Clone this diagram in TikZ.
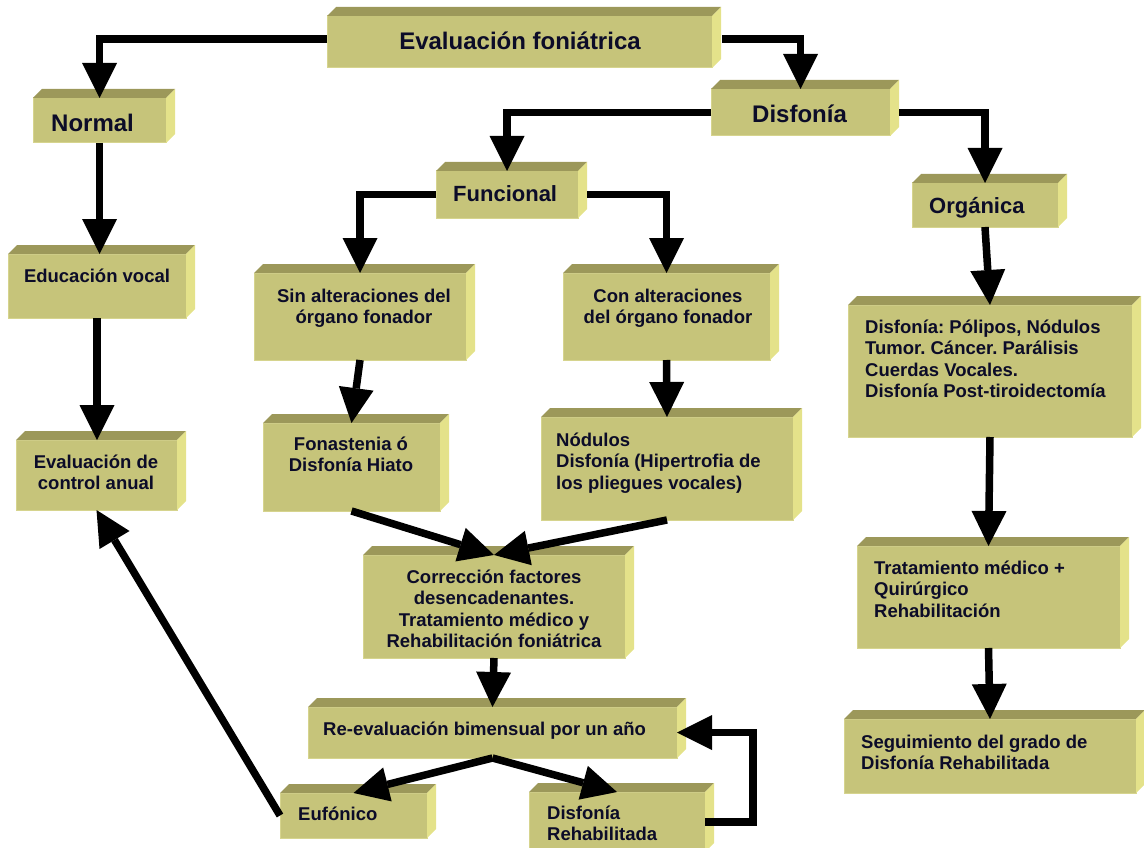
\documentclass[tikz,border=0pt]{standalone}
\usepackage{fontspec}
\setmainfont{Liberation Sans}
\usetikzlibrary{arrows.meta}
\definecolor{frontcol}{RGB}{198,196,122}
\definecolor{edgecol}{RGB}{214,212,142}
\definecolor{topcol}{RGB}{156,152,90}
\definecolor{sidecol}{RGB}{228,226,138}
\definecolor{txtcol}{RGB}{12,12,40}
\newcommand{\mkbox}[5]{%
  \node[frontbox, minimum width={(#4-#2)*1pt}, minimum height={(#5-#3)*1pt}, anchor=north west] (#1) at (#2,#3) {};
  \fill[topcol] (#1.north west) -- ++(9,-9) -- ([shift={(9,-9)}]#1.north east) -- (#1.north east) -- cycle;
  \fill[sidecol] (#1.north east) -- ++(9,-9) -- ([shift={(9,-9)}]#1.south east) -- (#1.south east) -- cycle;
}
\newcommand{\fs}{\rule{0pt}{15pt}}
\frenchspacing
\begin{document}
\begin{tikzpicture}[x=1pt,y=-1pt,
  frontbox/.style={draw=edgecol, line width=1pt, fill=frontcol, inner sep=0pt, outer sep=0pt},
  arr/.style={line width=7.5pt, -{Triangle[length=35pt,width=35pt,line width=0pt]}},
  lbl/.style={inner sep=0pt, text=txtcol, font=\bfseries\fontsize{18.5}{21.5}\selectfont},
  big/.style={lbl, font=\bfseries\fontsize{24}{28}\selectfont},
  mid/.style={lbl, font=\bfseries\fontsize{22}{26}\selectfont}]
\useasboundingbox (0,0) rectangle (1144,848);
\clip (0,0) rectangle (1144,848);
% boxes
\mkbox{evalfon}{327}{16}{712}{68}
\mkbox{normal}{33}{98}{166}{143}
\mkbox{disf}{711}{89}{890}{136}
\mkbox{func}{436}{171}{578}{218}
\mkbox{org}{912}{183}{1058}{227}
\mkbox{educ}{8}{254}{186}{318}
\mkbox{evc}{16}{440}{177}{510}
\mkbox{sin}{254}{273}{466}{360}
\mkbox{con}{563}{273}{770}{360}
\mkbox{fon}{263}{423}{440}{511}
\mkbox{nod}{541}{417}{793}{520}
\mkbox{corr}{363}{555}{625}{658}
\mkbox{re}{308}{707}{677}{758}
\mkbox{euf}{280}{793}{427}{838}
\mkbox{rehab}{529}{792}{705}{852}
\mkbox{pol}{848}{305}{1132}{437}
\mkbox{trat}{857}{546}{1120}{648}
\mkbox{seg}{844}{719}{1136}{793}
% texts
\node[big, anchor=base] (t-evalfon) at (520,50) {Evaluación foniátrica};
\node[big, anchor=base west] (t-normal) at (51,131.5) {Normal};
\node[big, anchor=base west] (t-disf) at (752,122.5) {Disfonía};
\node[mid, anchor=base west] (t-func) at (453,201.5) {Funcional};
\node[mid, anchor=base west] (t-org) at (929,213) {Orgánica};
\node[lbl, anchor=base] (t-educ) at (97,282) {Educación vocal};
\node[lbl, anchor=north, align=center] (t-evc) at (96,453) {\fs Evaluación de\\control anual};
\node[lbl, anchor=north, align=center] (t-sin) at (364,287) {\fs Sin alteraciones del\\órgano fonador};
\node[lbl, anchor=north, align=center] (t-con) at (668,287) {\fs Con alteraciones\\del órgano fonador};
\node[lbl, anchor=north, align=center] (t-fon) at (351,435) {\fs Fonastenia ó\\Disfonía Hiato};
\node[lbl, anchor=north west, align=left] (t-nod) at (556,431) {\fs Nódulos\\Disfonía (Hipertrofia de\\los pliegues vocales)};
\node[lbl, anchor=north, align=center] (t-corr) at (494,568) {\fs Corrección factores\\desencadenantes.\\Tratamiento médico y\\Rehabilitación foniátrica};
\node[lbl, anchor=base west] (t-re) at (323,735) {Re-evaluación bimensual por un año};
\node[lbl, anchor=base west] (t-euf) at (298,820.5) {Eufónico};
\node[lbl, anchor=north west, align=left] (t-rehab) at (547,804) {\fs Disfonía\\Rehabilitada};
\node[lbl, anchor=north west, align=left] (t-pol) at (865,318) {\fs Disfonía: Pólipos, Nódulos\\Tumor. Cáncer. Parálisis\\Cuerdas Vocales.\\Disfonía Post-tiroidectomía};
\node[lbl, anchor=north west, align=left] (t-trat) at (874,559) {\fs Tratamiento médico +\\Quirúrgico\\Rehabilitación};
\node[lbl, anchor=north west, align=left] (t-seg) at (861,733) {\fs Seguimiento del grado de\\Disfonía Rehabilitada};
% connectors
\draw[arr] ([yshift=3pt]evalfon.west) -| (normal.north);
\draw[arr] ([xshift=10pt,yshift=3pt]evalfon.east) -| (disf.north);
\draw[arr] (disf.west) -| (func.north);
\draw[arr] ([xshift=9pt]disf.east) -| (org.north);
\draw[arr] (func.west) -| (sin.north);
\draw[arr] ([xshift=9pt]func.east) -| (con.north);
\draw[arr] (normal.south) -- (normal.south |- educ.north);
\draw[arr] (educ.south) -- (educ.south |- evc.north);
\draw[arr] (sin.south) -- (fon.north);
\draw[arr] (con.south) -- (nod.north);
\draw[arr] (fon.south) -- (corr.north);
\draw[arr] (nod.south) -- (corr.north);
\draw[arr] (corr.south) -- (re.north);
\draw[arr] (re.south) -- (euf.north);
\draw[arr] (re.south) -- (rehab.north);
\draw[arr] (rehab.east) -- ++(48,0) |- (re.east);
\draw[arr] (euf.west) -- (evc.south);
\draw[arr] (org.south) -- (pol.north);
\draw[arr] (pol.south) -- (trat.north);
\draw[arr] (trat.south) -- (seg.north);
\end{tikzpicture}
\end{document}
